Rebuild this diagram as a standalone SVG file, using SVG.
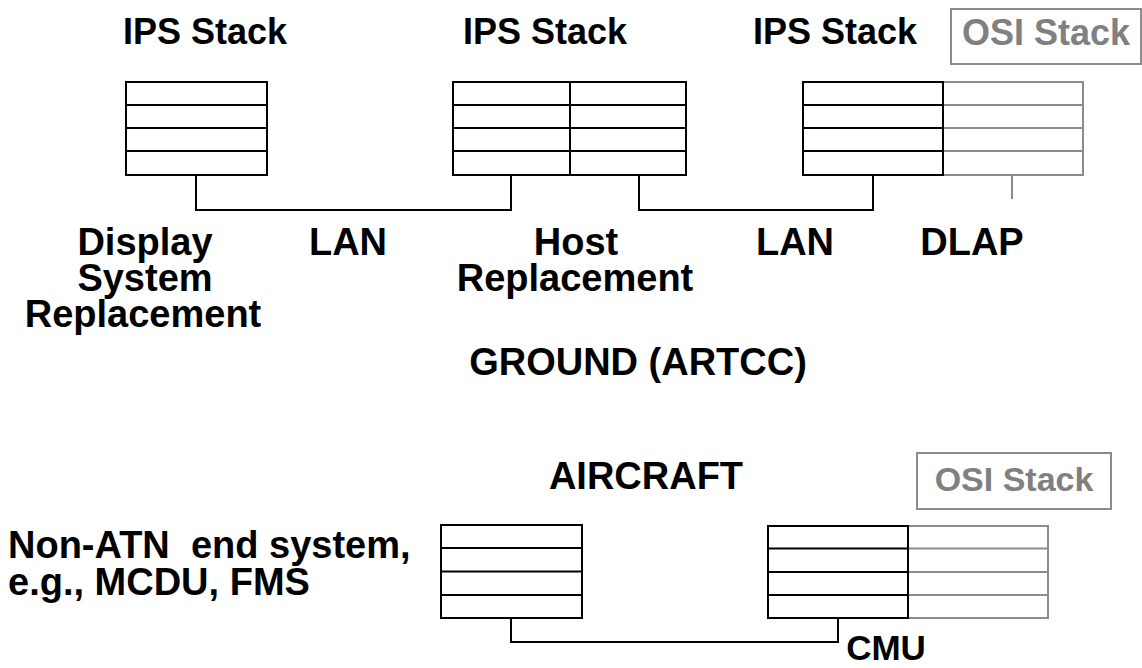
<svg xmlns="http://www.w3.org/2000/svg" width="1142" height="668" viewBox="0 0 1142 668">
<style>
text{font-family:"Liberation Sans",Arial,sans-serif;font-weight:bold;fill:#000}
.lbl{font-size:38px}
.st{font-size:36px;text-anchor:middle}
.c{text-anchor:middle}
.osi{fill:#808080}
.k{fill:none;stroke:#000;stroke-width:2}
.g{fill:none;stroke:#8c8c8c;stroke-width:2}
</style>
<rect width="1142" height="668" fill="#fff"/>
<g id="labels">
<text class="st" x="205" y="44">IPS Stack</text>
<text class="st" x="545" y="44">IPS Stack</text>
<text class="st" x="835" y="44">IPS Stack</text>
<text class="lbl c" x="145" y="255">Display</text>
<text class="lbl c" x="145" y="291">System</text>
<text class="lbl c" x="143" y="327">Replacement</text>
<text class="lbl c" x="348" y="255">LAN</text>
<text class="lbl c" x="576" y="255">Host</text>
<text class="lbl c" x="575" y="291">Replacement</text>
<text class="lbl c" x="795" y="255">LAN</text>
<text class="lbl c" x="972" y="255">DLAP</text>
<text class="lbl c" x="638" y="375">GROUND (ARTCC)</text>
<text class="lbl c" x="646" y="489">AIRCRAFT</text>
<text class="lbl" x="8" y="558" xml:space="preserve">Non-ATN  end system,</text>
<text class="lbl" x="8" y="595">e.g., MCDU, FMS</text>
<text class="c" x="886" y="660" style="font-size:35px">CMU</text>
</g>
<g id="osi-top">
<rect class="g" x="951" y="9" width="190" height="55"/>
<text class="st osi" x="1046" y="45">OSI Stack</text>
</g>
<g id="osi-bottom">
<rect class="g" x="917" y="453" width="194" height="56"/>
<text class="osi" x="1014" y="491" style="font-size:34px;text-anchor:middle">OSI Stack</text>
</g>
<g id="stack-display">
<rect class="k" x="126" y="82" width="141" height="93"/>
<path class="k" d="M126 105H267M126 128H267M126 151H267"/>
</g>
<g id="stack-host">
<rect class="k" x="453" y="82" width="233" height="93"/>
<path class="k" d="M453 105H686M453 128H686M453 151H686M570 82V175"/>
</g>
<g id="stack-dlap">
<rect class="g" x="943" y="82" width="140" height="93"/>
<path class="g" d="M943 105H1083M943 128H1083M943 151H1083"/>
<rect class="k" x="803" y="82" width="140" height="93"/>
<path class="k" d="M803 105H943M803 128H943M803 151H943"/>
</g>
<g id="stack-endsystem">
<rect class="k" x="441" y="525" width="141" height="93"/>
<path class="k" d="M441 548H582M441 571.5H582M441 595H582"/>
</g>
<g id="stack-cmu">
<rect class="g" x="908" y="526" width="140" height="92"/>
<path class="g" d="M908 548.5H1048M908 572H1048M908 595H1048"/>
<rect class="k" x="768" y="526" width="140" height="92"/>
<path class="k" d="M768 548.5H908M768 572H908M768 595H908"/>
</g>
<g id="connectors">
<path class="k" d="M196 175V210H511V175"/>
<path class="k" d="M639 175V210H873V175"/>
<path class="g" d="M1012 175V199"/>
<path class="k" d="M511 618V642H838V618"/>
</g>
</svg>
